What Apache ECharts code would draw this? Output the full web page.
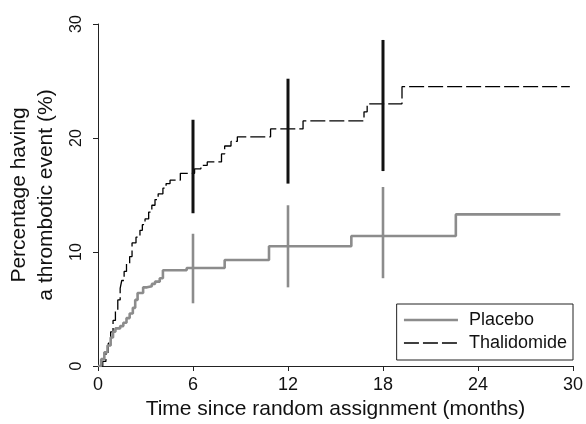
<!DOCTYPE html>
<html><head><meta charset="utf-8">
<script src="https://cdn.jsdelivr.net/npm/echarts@6/dist/echarts.min.js"></script>
<style>html,body{margin:0;padding:0;background:#fff}#c{width:586px;height:424px}</style>
</head><body><div id="c"></div>
<script>
const xTicks = [0, 6, 12, 18, 24, 30];
const yTicks = [0, 10, 20, 30];
const thalidomide = [[0,0],[0.3,0.4],[0.5,1.2],[0.65,2.0],[0.8,3.0],[0.95,4.0],[1.1,4.8],[1.25,5.8],[1.4,6.8],[1.5,7.5],[1.65,8.3],[1.8,9.0],[2.0,9.6],[2.15,10.8],[2.4,11.3],[2.65,11.9],[2.8,12.4],[2.97,12.9],[3.2,13.5],[3.4,14.1],[3.6,14.6],[3.8,15.1],[4.1,15.6],[4.3,16.0],[4.55,16.3],[5.2,16.9],[6.1,17.3],[6.5,17.6],[6.9,17.9],[7.8,18.6],[8.0,19.3],[8.4,19.7],[8.8,20.1],[10.9,20.8],[12.95,21.5],[16.8,22.3],[17.0,23.0],[19.2,24.5],[29.8,24.5]];
const placebo = [[0,0],[0.2,0.6],[0.4,1.2],[0.6,1.8],[0.8,2.5],[0.95,3.0],[1.1,3.3],[1.4,3.5],[1.6,3.8],[1.8,4.2],[2.0,4.6],[2.2,5.1],[2.35,5.8],[2.5,6.4],[2.85,6.9],[3.1,7.0],[3.4,7.2],[3.6,7.4],[3.9,7.7],[4.1,8.4],[5.6,8.6],[8.0,9.3],[10.8,10.5],[16.0,11.4],[22.6,13.3],[29.2,13.3]];
// [time, lower, upper]
const thalidomideCI = [[6,13.4,21.6],[12,16.0,25.2],[18,17.1,28.6]];
const placeboCI = [[6,5.5,11.6],[12,6.9,14.1],[18,7.7,15.7]];

function errBar(color, width) {
  return function (params, api) {
    const p1 = api.coord([api.value(0), api.value(1)]);
    const p2 = api.coord([api.value(0), api.value(2)]);
    return {type: 'line', shape: {x1: p1[0], y1: p1[1], x2: p2[0], y2: p2[1]},
      style: {stroke: color, lineWidth: width}};
  };
}
const chart = echarts.init(document.getElementById('c'), null, {renderer: 'canvas'});
const font = 'Liberation Sans, Arial, sans-serif';
chart.setOption({
  animation: false,
  textStyle: {fontFamily: font},
  grid: {left: 98, right: 13, top: 24, bottom: 58, containLabel: false, outerBoundsMode: 'none'},
  xAxis: {type: 'value', min: 0, max: 30, interval: 6,
    name: 'Time since random assignment (months)', nameLocation: 'middle', nameGap: 33,
    nameTextStyle: {fontSize: 21, color: '#111', fontFamily: font},
    axisLine: {lineStyle: {color: '#222', width: 1}},
    axisTick: {show: true, length: 5, lineStyle: {color: '#222'}},
    axisLabel: {fontSize: 18, color: '#111', margin: 10, fontFamily: font,
      formatter: v => xTicks.includes(v) ? String(v) : ''},
    splitLine: {show: false}},
  yAxis: {type: 'value', min: 0, max: 30, interval: 10,
    name: 'Percentage having\na thrombotic event (%)', nameLocation: 'middle', nameGap: 38, nameRotate: 90,
    nameTextStyle: {fontSize: 21, color: '#111', lineHeight: 27, fontFamily: font},
    axisLine: {show: true, lineStyle: {color: '#222', width: 1}},
    axisTick: {show: true, length: 5, lineStyle: {color: '#222'}},
    axisLabel: {fontSize: 16, color: '#111', rotate: 90, margin: 13, fontFamily: font,
      formatter: v => yTicks.includes(v) ? String(v) : ''},
    splitLine: {show: false}},
  legend: {data: [
      {name: 'Placebo', lineStyle: {color: '#8c8c8c', width: 2.6}},
      {name: 'Thalidomide', lineStyle: {color: '#000', width: 1.5, type: [15, 4]}}
    ], orient: 'vertical', right: 13, bottom: 64,
    borderColor: '#222', borderWidth: 1, borderRadius: 0, padding: [7, 6, 8, 6],
    itemWidth: 54, itemHeight: 14, itemGap: 5,
    itemStyle: {opacity: 0},
    textStyle: {fontSize: 18, color: '#111', fontFamily: font, padding: [0, 0, 0, 6]}},
  series: [
    {name: 'Placebo', type: 'line', step: 'end', symbol: 'none', data: placebo,
      lineStyle: {color: '#8c8c8c', width: 2.6}, itemStyle: {color: '#8c8c8c'}, z: 3},
    {name: 'Thalidomide', type: 'line', step: 'end', symbol: 'none', data: thalidomide,
      lineStyle: {color: '#000', width: 1.3, type: [15, 4]}, itemStyle: {color: '#000'}, z: 2},
    {name: 'ci_placebo', type: 'custom', data: placeboCI, renderItem: errBar('#8c8c8c', 2.6), z: 4},
    {name: 'ci_thal', type: 'custom', data: thalidomideCI, renderItem: errBar('#111', 3), z: 5}
  ]
});
</script></body></html>
